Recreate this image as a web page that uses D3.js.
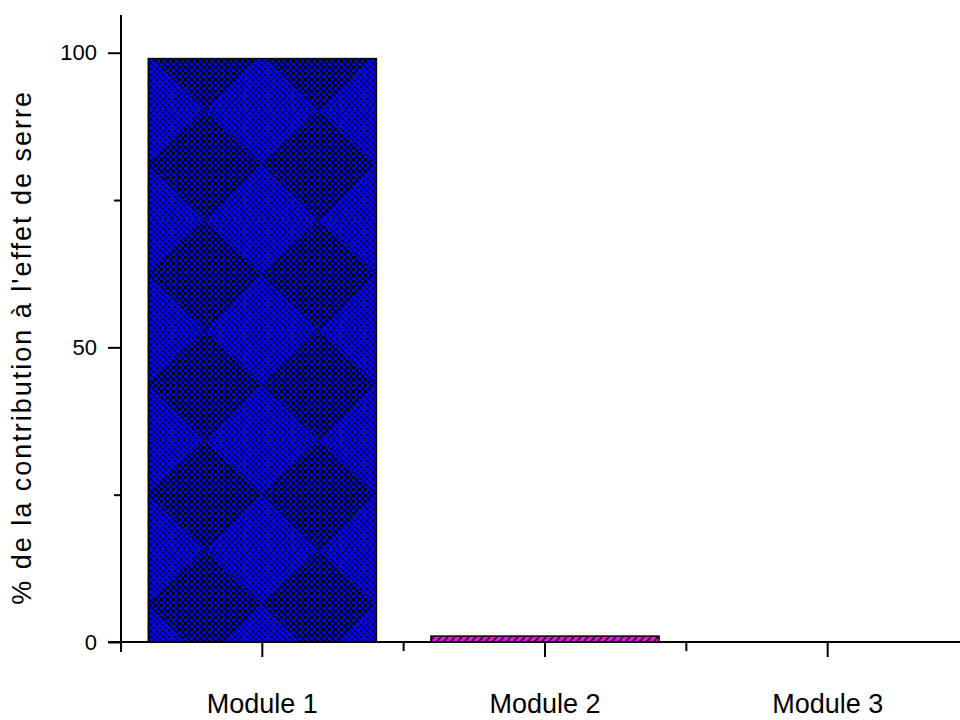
<!DOCTYPE html>
<html>
<head>
<meta charset="utf-8">
<script src="https://d3js.org/d3.v7.min.js"></script>
<style>
  body { margin: 0; background: #fff; }
  svg { display: block; font-family: "Liberation Sans", Arial, sans-serif; }
</style>
</head>
<body>
<div id="chart"></div>
<script>
// data
const categories = ["Module 1", "Module 2", "Module 3"];
const values = [99, 1, 0];
const majorTicks = [0, 50, 100];
const minorTicks = [25, 75];
const yLabel = "% de la contribution à l'effet de serre";

const width = 960;
const height = 720;

const svg = d3
  .select("#chart")
  .append("svg")
  .attr("width", width)
  .attr("height", height);

const defs = svg.append("defs");

// checker pattern (dark parts of the blue bar)
const checker = defs.append("pattern")
  .attr("id", "checker")
  .attr("patternUnits", "userSpaceOnUse")
  .attr("width", 6).attr("height", 6);
checker.append("rect").attr("width", 6).attr("height", 6).attr("fill", "#0000ff");
checker.append("rect").attr("width", 3).attr("height", 3).attr("fill", "#000");
checker.append("rect").attr("x", 3).attr("y", 3).attr("width", 3).attr("height", 3).attr("fill", "#000");

// finer cross hatch (lighter parts)
const hatch = defs.append("pattern")
  .attr("id", "hatch")
  .attr("patternUnits", "userSpaceOnUse")
  .attr("width", 6).attr("height", 6);
hatch.append("rect").attr("width", 6).attr("height", 6).attr("fill", "#0000ff");
hatch.append("path").attr("d", "M0,0L6,6M6,0L0,6").attr("stroke", "#000").attr("stroke-width", 0.8);

// big diamonds made of both
const diamond = defs.append("pattern")
  .attr("id", "diamond")
  .attr("patternUnits", "userSpaceOnUse")
  .attr("x", 148).attr("y", 0)
  .attr("width", 114).attr("height", 110);
diamond.append("rect").attr("width", 114).attr("height", 110).attr("fill", "url(#hatch)");
diamond.append("path")
  .attr("d", "M57,0L114,55L57,110L0,55Z")
  .attr("fill", "url(#checker)");

// magenta stripes
const stripes = defs.append("pattern")
  .attr("id", "stripes")
  .attr("patternUnits", "userSpaceOnUse")
  .attr("width", 7).attr("height", 7);
stripes.append("rect").attr("width", 7).attr("height", 7).attr("fill", "#ff00ff");
stripes.append("path").attr("d", "M0,7L7,0").attr("stroke", "#000").attr("stroke-width", 1.5);

const fills = ["url(#diamond)", "url(#stripes)", "#00ff00"];

const xScale = d3.scaleBand().domain(categories).range([121, 969]);
const yScale = d3.scaleLinear().domain([0, 106.4]).range([642, 15]);

const barW = xScale.bandwidth() * 0.807;

svg.append("g")
  .selectAll("rect")
  .data(values)
  .enter()
  .append("rect")
  .attr("x", (d, i) => xScale(categories[i]) + (xScale.bandwidth() - barW) / 2)
  .attr("y", (d) => yScale(d))
  .attr("width", barW)
  .attr("height", (d) => yScale(0) - yScale(d))
  .attr("fill", (d, i) => fills[i])
  .attr("stroke", "#000")
  .attr("stroke-width", 1.5)
  .style("display", (d) => (d > 0 ? null : "none"));

// y axis
const yAxis = d3.axisLeft(yScale).tickValues(majorTicks).tickSize(13).tickPadding(11);
const yG = svg.append("g").attr("transform", "translate(121,0)").call(yAxis);
yG.select(".domain").attr("d", `M0,${yScale.range()[1]}V${yScale(0) + 10}`);
yG.selectAll("line").attr("stroke-width", 2);
yG.select(".domain").attr("stroke-width", 2);
yG.selectAll("text").attr("font-size", 22).attr("fill", "#000").attr("font-family", "Liberation Sans, Arial, sans-serif");

svg.append("g")
  .attr("transform", "translate(121,0)")
  .call(d3.axisLeft(yScale).tickValues(minorTicks).tickSize(7).tickFormat(""))
  .call((g) => g.select(".domain").remove())
  .selectAll("line").attr("stroke-width", 2);

// x axis
const xAxis = d3.axisBottom(xScale).tickSize(15).tickPadding(37);
const xG = svg.append("g").attr("transform", `translate(0,${yScale(0)})`).call(xAxis);
xG.select(".domain").attr("d", "M108,0H960").attr("stroke-width", 2);
xG.selectAll("line").attr("stroke-width", 2);
xG.selectAll("text").attr("font-size", 27).attr("fill", "#000").attr("font-family", "Liberation Sans, Arial, sans-serif");

// minor x ticks on band edges
svg.append("g")
  .selectAll("line")
  .data(categories)
  .enter()
  .append("line")
  .attr("x1", (d) => xScale(d))
  .attr("x2", (d) => xScale(d))
  .attr("y1", yScale(0))
  .attr("y2", yScale(0) + 9)
  .attr("stroke", "#000")
  .attr("stroke-width", 2);

svg.append("text")
  .attr("transform", `translate(31,${yScale(50)}) rotate(-90)`)
  .attr("text-anchor", "middle")
  .attr("font-size", 27)
  .attr("letter-spacing", 2)
  .text(yLabel);
</script>
</body>
</html>
